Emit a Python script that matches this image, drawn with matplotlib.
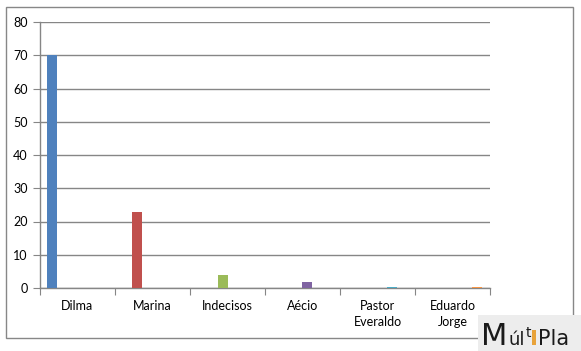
import matplotlib
matplotlib.use("Agg")
import matplotlib.pyplot as plt
from matplotlib.patches import Rectangle
import numpy as np

categories = ["Dilma", "Marina", "Indecisos", "Aécio", "Pastor\nEveraldo", "Eduardo\nJorge"]
values = [70, 23, 3.8, 1.7, 0.4, 0.4]
colors = ["#4F81BD", "#C0504D", "#9BBB59", "#8064A2", "#4BACC6", "#F79646"]
yticks = [0, 10, 20, 30, 40, 50, 60, 70, 80]

plt.rcParams['font.family'] = ['Lato', 'DejaVu Sans']

fig = plt.figure(figsize=(5.81, 3.51), dpi=100)
W, H = 581, 351
ax = fig.add_axes([40 / W, 1 - 288 / H, 450 / W, 266 / H])

n = len(categories)
bw = 1.0 / 7.5
for i, (v, c) in enumerate(zip(values, colors)):
    x = i + 0.1 + i * bw + bw / 2
    ax.bar(x, v, width=bw, color=c, zorder=3)

ax.set_xlim(0, n)
ax.set_ylim(0, 80)
ax.set_yticks(yticks)
ax.set_yticklabels([str(t) for t in yticks], fontsize=9, color="#000000")
ax.yaxis.grid(True, color="#868686", linewidth=1, zorder=0)
ax.set_axisbelow(True)

ax.set_xticks(np.arange(n + 1))
ax.set_xticklabels([])
ax.set_xticks(np.arange(n) + 0.5, minor=True)
ax.set_xticklabels(categories, minor=True, fontsize=9, linespacing=1.4)
ax.tick_params(axis="x", which="major", direction="out", length=5, color="#868686")
ax.tick_params(axis="x", which="minor", length=0, pad=9)
ax.tick_params(axis="y", direction="out", length=5, color="#868686", pad=4)

for s in ["top", "right"]:
    ax.spines[s].set_visible(False)
for s in ["left", "bottom"]:
    ax.spines[s].set_color("#868686")
    ax.spines[s].set_linewidth(1)

fig.patches.append(Rectangle((6 / W, 1 - 338 / H), 567 / W, 331 / H, transform=fig.transFigure,
                             fill=False, edgecolor="#878787", linewidth=1))

# logo
fig.patches.append(Rectangle((478 / W, 0), 103 / W, 36 / H, transform=fig.transFigure,
                             facecolor="#EDEDED", edgecolor="none"))
renderer = fig.canvas.get_renderer()
base = 1 - 345 / H
x = 481
for txt, fs, yb, gap in [("M", 22, base, 1), ("úl", 13, base, 0.5), ("t", 10, 1 - 337 / H, 1.5)]:
    t = fig.text(x / W, yb, txt, fontsize=fs, color="#1a1a1a", va="baseline", family="DejaVu Sans")
    bb = t.get_window_extent(renderer)
    x = bb.x1 + gap
fig.patches.append(Rectangle((x / W, base), 4 / W, 15 / H, transform=fig.transFigure,
                             facecolor="#E8A33A", edgecolor="none"))
x += 6
fig.text(x / W, base, "Pla", fontsize=15, color="#1a1a1a", va="baseline", family="DejaVu Sans")

fig.savefig("out.png", dpi=100)
